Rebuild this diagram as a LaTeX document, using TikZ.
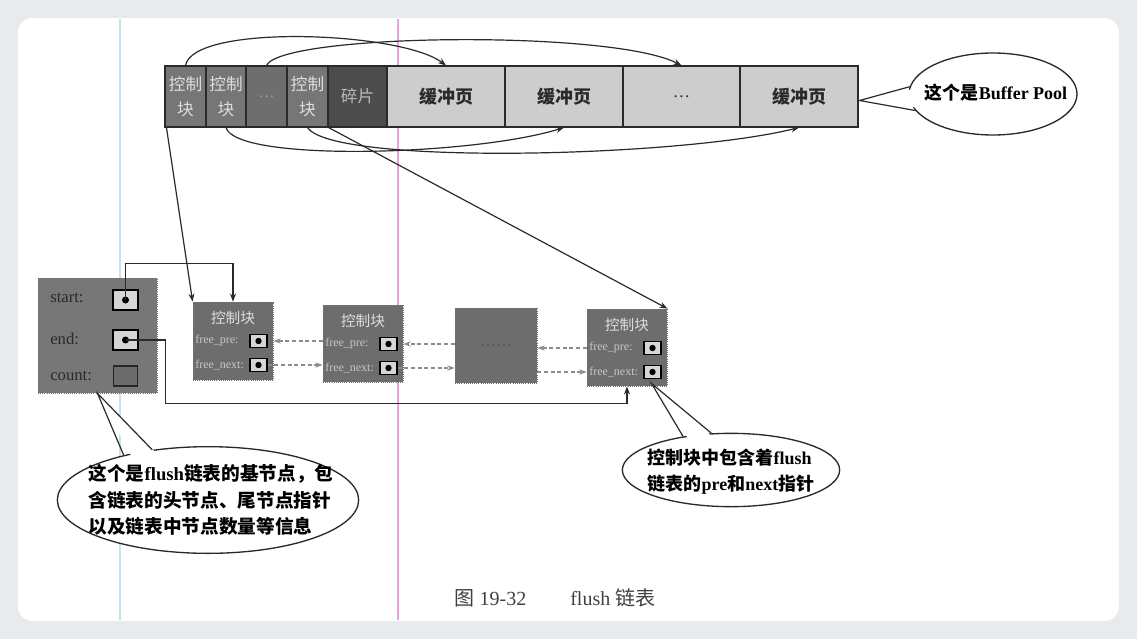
\documentclass[tikz,border=0pt]{standalone}
\usepackage{fontspec}
\setmainfont{Liberation Serif}
\newfontfamily\cjk{Noto Sans CJK SC}
\usetikzlibrary{fit,arrows.meta,shapes.geometric,calc}
\definecolor{pagebg}{HTML}{E9EAEC}
\definecolor{ctrlc}{HTML}{767676}
\definecolor{dotsc}{HTML}{6E6E6E}
\definecolor{fragc}{HTML}{4C4C4C}
\definecolor{bufc}{HTML}{CDCDCD}
\definecolor{nodec}{HTML}{6D6D6D}
\definecolor{basec}{HTML}{777777}
\definecolor{ink}{HTML}{2A2A2A}
\definecolor{ptrc}{HTML}{D6D6D6}
\definecolor{dashc}{HTML}{8C8C8C}
\definecolor{lighttxt}{HTML}{DDDDDD}
\definecolor{scancyan}{HTML}{BFE6EA}
\definecolor{scanpink}{HTML}{E6A6DA}
\newcommand\fsz[2]{\fontsize{#1}{#2}\selectfont}
\begin{document}
\begin{tikzpicture}[x=0.75pt,y=-0.75pt,
  cellbox/.style={draw=ink,line width=0.8pt,inner sep=0pt},
  ctrlcell/.style={cellbox,fill=ctrlc},
  dotcell/.style={cellbox,fill=dotsc},
  fragcell/.style={cellbox,fill=fragc},
  bufcell/.style={cellbox,fill=bufc},
  ctrltext/.style={text=lighttxt,font=\cjk\fsz{12.5}{18.5},align=center,inner sep=0pt},
  buftext/.style={text=ink,font=\cjk\bfseries\fsz{13.5}{16},inner sep=0pt},
  conn/.style={draw=ink,line width=0.9pt},
  arr/.style={conn,-{Stealth[length=6pt,width=4.5pt]}},
  darr/.style={draw=dashc,line width=0.9pt,densely dashed,-{Stealth[length=5.5pt,width=4pt]}},
  listnode/.style={draw=black!55,densely dotted,line width=0.6pt,fill=nodec,inner sep=0pt},
  basebox/.style={listnode,fill=basec},
  nodetitle/.style={text=lighttxt,font=\cjk\fsz{11}{13},inner sep=0pt},
  fieldtext/.style={text=lighttxt!90!black,font=\fsz{9}{10},inner sep=0pt,anchor=west},
  ptr/.style={draw=black,line width=1.2pt,fill=ptrc,minimum width=12.5pt,minimum height=10pt,inner sep=0pt},
  bigptr/.style={draw=black,line width=1.1pt,fill=ptrc,minimum width=18.5pt,minimum height=15pt,inner sep=0pt},
  basetext/.style={text=ink,font=\fsz{12.5}{14},inner sep=0pt,anchor=west},
  callout/.style={ellipse,draw=ink,line width=1pt,fill=white,inner sep=0pt},
  callouttext/.style={text=black,font=\cjk\bfseries\fsz{14}{20},align=left,inner sep=0pt},
]
% background card
\fill[pagebg] (0,0) rectangle (1137,639);
\useasboundingbox (0,0) rectangle (1137,639);
\fill[white,rounded corners=11pt] (18,18) rectangle (1119,621);
\draw[scancyan,line width=1pt] (120,19) -- (120,620);
\draw[scanpink,line width=1.2pt] (398,19) -- (398,620);

% buffer pool bar
\node[ctrlcell,fit={(165,66)(206,127)}] (c1) {};
\node[ctrlcell,fit={(206,66)(246,127)}] (c2) {};
\node[dotcell,fit={(246,66)(287,127)}] (c3) {};
\node[ctrlcell,fit={(287,66)(328,127)}] (c4) {};
\node[fragcell,fit={(328,66)(387,127)}] (c5) {};
\node[bufcell,fit={(387,66)(505,127)}] (b1) {};
\node[bufcell,fit={(505,66)(623,127)}] (b2) {};
\node[bufcell,fit={(623,66)(740,127)}] (b3) {};
\node[bufcell,fit={(740,66)(858,127)}] (b4) {};
\node[ctrltext] (c1t) at (c1.center) {控制\\块};
\node[ctrltext] (c2t) at (c2.center) {控制\\块};
\node[ctrltext,text=gray!75,font=\fsz{12}{14}] (c3t) at (c3.center) {\ldots};
\node[ctrltext] (c4t) at (c4.center) {控制\\块};
\node[ctrltext,text=gray!55] (c5t) at (c5.center) {碎片};
\node[buftext] (b1t) at (b1.center) {缓冲页};
\node[buftext] (b2t) at (b2.center) {缓冲页};
\node[text=ink,font=\fsz{13}{15},inner sep=0pt] (b3t) at (b3.center) {\ldots};
\node[buftext] (b4t) at (b4.center) {缓冲页};

% curves between control blocks and pages
\draw[arr] (c1.north) .. controls +(8,-42) and +(-45,-34) .. (b1.north);
\draw[arr] (c3.north) .. controls +(15,-32) and +(-70,-36) .. (b3.north);
\draw[arr] (c2.south) .. controls +(10,35) and +(-90,28) .. (b2.south);
\draw[arr] (c4.south) .. controls +(25,38) and +(-120,30) .. (b4.south);

% base node
\node[basebox,fit={(38,278)(157,393)}] (base) {};
\node[basetext] (lstart) at (50,298) {start:};
\node[basetext] (lend) at (50,339) {end:};
\node[basetext] (lcount) at (50,376) {count:};
\node[bigptr] (sptr) at (125.5,300) {};
\node[bigptr] (eptr) at (125.5,340) {};
\node[bigptr,fill=gray!85!black,line width=0.8pt,draw=black!85] (cptr) at (125.5,376) {};
\fill (sptr.center) circle[radius=3.5];
\fill (eptr.center) circle[radius=3.5];

% list nodes
\node[listnode,fit={(193,302)(273,380)}] (n1) {};
\node[nodetitle] (n1t) at (233,318) {控制块};
\node[fieldtext] (n1pl) at (195,341) {free\_pre:};
\node[fieldtext] (n1nl) at (195,365) {free\_next:};
\node[ptr] (n1pre) at (258.5,341) {};
\node[ptr] (n1next) at (258.5,365) {};
\fill (n1pre.center) circle[radius=3.2];
\fill (n1next.center) circle[radius=3.2];

\node[listnode,fit={(323,305)(403,382)}] (n2) {};
\node[nodetitle] (n2t) at (363,321) {控制块};
\node[fieldtext] (n2pl) at (325,344) {free\_pre:};
\node[fieldtext] (n2nl) at (325,368) {free\_next:};
\node[ptr] (n2pre) at (388.5,344) {};
\node[ptr] (n2next) at (388.5,368) {};
\fill (n2pre.center) circle[radius=3.2];
\fill (n2next.center) circle[radius=3.2];

\node[listnode,fit={(455,308)(537,383)}] (n3) {};
\node[text=gray!60!black,font=\fsz{12}{14},inner sep=0pt] (n3t) at (n3.center) {\ldots\ldots};

\node[listnode,fit={(587,309)(667,386)}] (n4) {};
\node[nodetitle] (n4t) at (627,325) {控制块};
\node[fieldtext] (n4pl) at (589,348) {free\_pre:};
\node[fieldtext] (n4nl) at (589,372) {free\_next:};
\node[ptr] (n4pre) at (652.5,348) {};
\node[ptr] (n4next) at (652.5,372) {};
\fill (n4pre.center) circle[radius=3.2];
\fill (n4next.center) circle[radius=3.2];

% bar to list
\draw[arr] ($(c1.south west)+(2,0)$) -- (n1.north west);
\draw[arr] (c4.south east) -- (n4.north east);

% base pointers
\draw[arr] (sptr.center) |- ($(n1.north)+(0,-38)$) -- (n1.north);
\draw[arr] (eptr.center) -| ($(base.south east)+(8,10)$) -| (n4.south);

% list links
\draw[darr] (n2.west |- n1pre.east) -- (n1.east |- n1pre.east);
\draw[darr] (n1next.east) -- (n2.west |- n1next.east);
\draw[darr] (n3.west |- n2pre.east) -- (n2.east |- n2pre.east);
\draw[darr] (n2next.east) -- (n3.west |- n2next.east);
\draw[darr] (n4.west |- n4pre.west) -- (n3.east |- n4pre.west);
\draw[darr] (n3.east |- n4next.west) -- (n4.west |- n4next.west);

% Buffer Pool callout
\node[callout,minimum width=126pt,minimum height=61.5pt] (bp) at (993,94) {};
\coordinate (bptip) at ($(b4.east)+(1,4)$);
\fill[white] ($(bp.center)!0.88!(bp.175)$) -- (bptip) -- ($(bp.center)!0.88!(bp.192)$) -- cycle;
\draw[conn] (bp.175) -- (bptip) -- (bp.192);
\node[callouttext,font=\cjk\bfseries\fsz{13.5}{16}] (bpt) at (996,93) {这个是\textrm{Buffer Pool}};

% base callout
\node[callout,minimum width=226pt,minimum height=80pt] (cb1) at (208,500) {};
\coordinate (cb1tip) at (base.south);
\fill[white] ($(cb1.center)!0.88!(cb1.152)$) -- (cb1tip) -- ($(cb1.center)!0.88!(cb1.138)$) -- cycle;
\draw[conn] (cb1.152) -- (cb1tip) -- (cb1.138);
\node[callouttext] (cb1t) at (211,500) {这个是\textrm{flush}链表的基节点，包\\含链表的头节点、尾节点指针\\以及链表中节点数量等信息};

% control block callout
\node[callout,minimum width=163pt,minimum height=55pt] (cb2) at (731,470) {};
\coordinate (cb2tip) at ($(n4next.south)+(-1,4)$);
\fill[white] ($(cb2.center)!0.85!(cb2.145)$) -- (cb2tip) -- ($(cb2.center)!0.85!(cb2.118)$) -- cycle;
\draw[conn] (cb2.145) -- (cb2tip) -- (cb2.118);
\node[callouttext,font=\cjk\bfseries\fsz{13.5}{19.5}] (cb2t) at (731,472) {控制块中包含着\textrm{flush}\\链表的\textrm{pre}和\textrm{next}指针};

% caption
\node[text=black!75,font=\fsz{15}{18},inner sep=0pt] (cap) at (555,598) {{\cjk 图} 19-32\hspace{2.2em}flush {\cjk 链表}};
\end{tikzpicture}
\end{document}
